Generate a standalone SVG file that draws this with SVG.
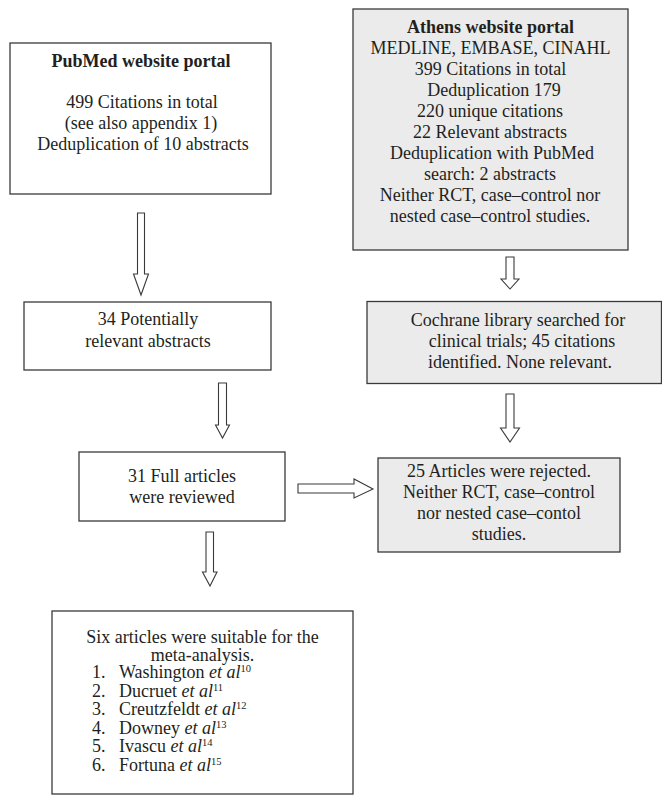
<svg xmlns="http://www.w3.org/2000/svg" width="662" height="795" viewBox="0 0 662 795">
<style>
text{font-family:"Liberation Serif","Times New Roman",serif;font-size:18px;fill:#231f20}
.c{text-anchor:middle}
.b{font-weight:bold}
.i{font-style:italic}
.box{fill:#fff;stroke:#3a3a3a;stroke-width:1.3}
.grey{fill:#ebebeb;stroke:#3a3a3a;stroke-width:1.3}
.arr{fill:#fff;stroke:#3a3a3a;stroke-width:1.1;stroke-linejoin:miter}
.sup{font-size:10.5px}
</style>
<rect width="662" height="795" fill="#fff"/>
<g id="pubmed">
<rect class="box" x="10" y="43" width="261" height="151"/>
<text class="c b" x="141" y="67">PubMed website portal</text>
<text class="c" x="142" y="108">499 Citations in total</text>
<text class="c" x="141" y="129">(see also appendix 1)</text>
<text class="c" x="143" y="150">Deduplication of 10 abstracts</text>
</g>
<g id="athens">
<rect class="grey" x="353" y="9" width="275" height="241"/>
<text class="c b" x="490.5" y="32.5">Athens website portal</text>
<text class="c" x="490.5" y="53.5">MEDLINE, EMBASE, CINAHL</text>
<text class="c" x="490.5" y="74.6">399 Citations in total</text>
<text class="c" x="494" y="95.6">Deduplication 179</text>
<text class="c" x="490" y="116.7">220 unique citations</text>
<text class="c" x="490" y="137.7">22 Relevant abstracts</text>
<text class="c" x="492" y="158.8">Deduplication with PubMed</text>
<text class="c" x="490" y="179.8">search: 2 abstracts</text>
<text class="c" x="490" y="200.9">Neither RCT, case–control nor</text>
<text class="c" x="490" y="221.9">nested case–control studies.</text>
</g>
<g id="potential">
<rect class="box" x="24" y="302" width="247" height="68"/>
<text class="c" x="148" y="325">34 Potentially</text>
<text class="c" x="148" y="347">relevant abstracts</text>
</g>
<g id="cochrane">
<rect class="grey" x="367" y="301.5" width="294.5" height="82"/>
<text class="c" x="518" y="326">Cochrane library searched for</text>
<text class="c" x="522" y="347">clinical trials; 45 citations</text>
<text class="c" x="520" y="368">identified. None relevant.</text>
</g>
<g id="full">
<rect class="box" x="79" y="452" width="206" height="69"/>
<text class="c" x="182" y="482">31 Full articles</text>
<text class="c" x="182" y="503">were reviewed</text>
</g>
<g id="rejected">
<rect class="grey" x="378" y="458" width="242" height="94"/>
<text class="c" x="499" y="477">25 Articles were rejected.</text>
<text class="c" x="499" y="498">Neither RCT, case–control</text>
<text class="c" x="499" y="519">nor nested case–contol</text>
<text class="c" x="499" y="540">studies.</text>
</g>
<g id="suitable">
<rect class="box" x="52" y="611" width="301" height="183"/>
<text class="c" x="202.5" y="643">Six articles were suitable for the</text>
<text class="c" x="202.5" y="661">meta-analysis.</text>
<text x="92" y="678">1.</text><text x="119" y="678">Washington <tspan class="i">et al</tspan><tspan class="sup" dy="-6">10</tspan></text>
<text x="92" y="696.5">2.</text><text x="119" y="696.5">Ducruet <tspan class="i">et al</tspan><tspan class="sup" dy="-6">11</tspan></text>
<text x="92" y="715">3.</text><text x="119" y="715">Creutzfeldt <tspan class="i">et al</tspan><tspan class="sup" dy="-6">12</tspan></text>
<text x="92" y="733.5">4.</text><text x="119" y="733.5">Downey <tspan class="i">et al</tspan><tspan class="sup" dy="-6">13</tspan></text>
<text x="92" y="752">5.</text><text x="119" y="752">Ivascu <tspan class="i">et al</tspan><tspan class="sup" dy="-6">14</tspan></text>
<text x="92" y="770.5">6.</text><text x="119" y="770.5">Fortuna <tspan class="i">et al</tspan><tspan class="sup" dy="-6">15</tspan></text>
</g>
<g id="connectors">
<polygon class="arr" points="137.5,213 144.5,213 144.5,274 148.5,274 141,295 133.5,274 137.5,274"/>
<polygon class="arr" points="506,257 514,257 514,279 519,279 510,289 501,279 506,279"/>
<polygon class="arr" points="218.5,383 226.5,383 226.5,425 229.5,425 222.5,438 215.5,425 218.5,425"/>
<polygon class="arr" points="506,394 514,394 514,428 519.5,428 510,442 500.5,428 506,428"/>
<polygon class="arr" points="206,532 213.5,532 213.5,572 217,572 210,586 202.5,572 206,572"/>
<polygon class="arr" points="298,484 354,484 354,479 373,489 354,498 354,493 298,493"/>
</g>
</svg>
